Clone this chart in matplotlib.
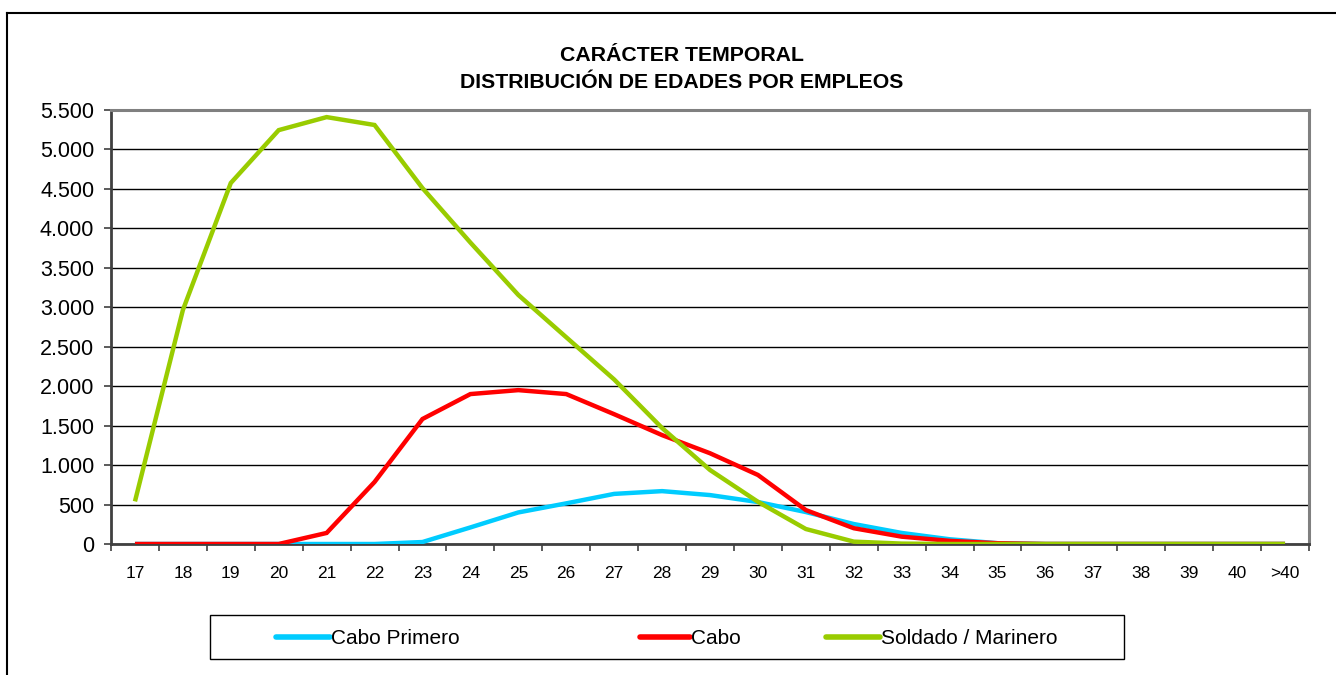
import matplotlib
matplotlib.use("Agg")
import matplotlib.pyplot as plt
from matplotlib.lines import Line2D
from matplotlib.patches import Rectangle
from matplotlib.ticker import FuncFormatter, FixedLocator

plt.rcParams['font.family'] = ['Liberation Sans', 'DejaVu Sans']

categories = ['17', '18', '19', '20', '21', '22', '23', '24', '25', '26', '27', '28',
              '29', '30', '31', '32', '33', '34', '35', '36', '37', '38', '39', '40', '>40']
cabo_primero = [0, 0, 0, 0, 0, 0, 25, 210, 400, 515, 635, 670, 620, 532, 405, 253, 140, 60,
                10, 0, 0, 0, 0, 0, 0]
cabo = [0, 0, 0, 0, 140, 786, 1584, 1900, 1950, 1900, 1645, 1380, 1150, 875, 430, 200, 93, 40,
        10, 0, 0, 0, 0, 0, 0]
soldado = [540, 2965, 4575, 5245, 5410, 5310, 4510, 3820, 3156, 2620, 2085, 1470, 938, 535,
           190, 30, 5, 0, 0, 0, 0, 0, 0, 0, 0]
series_names = ['Cabo Primero', 'Cabo', 'Soldado / Marinero']
series_colors = ['#00CCFF', '#FF0000', '#99CC00']
title_text = 'CARÁCTER TEMPORAL\nDISTRIBUCIÓN DE EDADES POR EMPLEOS'
yticks = list(range(0, 5501, 500))

W, H = 1336, 675
fig = plt.figure(figsize=(W / 100, H / 100), dpi=100)
ax = fig.add_axes([111 / W, 1 - 544 / H, (1309 - 111) / W, (544 - 110) / H])

x = list(range(len(categories)))
for vals, name, col in zip([cabo_primero, cabo, soldado], series_names, series_colors):
    ax.plot(x, vals, color=col, lw=3.2, label=name, solid_joinstyle='miter',
            solid_capstyle='butt', zorder=3)

ax.set_xlim(-0.5, len(categories) - 0.5)
ax.set_ylim(0, 5500)
ax.yaxis.set_major_locator(FixedLocator(yticks))
ax.yaxis.set_major_formatter(FuncFormatter(lambda v, p: f"{int(v):,}".replace(',', '.')))
ax.grid(axis='y', color='black', lw=1.0, zorder=1)
ax.set_axisbelow(True)

ax.set_xticks(x)
ax.set_xticklabels(categories, fontsize=12.5)
ax.set_xticks([i - 0.5 for i in range(len(categories) + 1)], minor=True)
ax.tick_params(axis='x', which='major', length=0, pad=16)
ax.tick_params(axis='x', which='minor', length=5, width=1.2, color='#404040')
ax.tick_params(axis='y', labelsize=15.5, length=5, width=1.2, color='#404040', pad=7)

for s in ['left', 'bottom']:
    ax.spines[s].set_color('#404040')
    ax.spines[s].set_linewidth(2)
for s in ['top', 'right']:
    ax.spines[s].set_color('#808080')
    ax.spines[s].set_linewidth(2.2)

fig.text(682 / W, 1 - 69 / H, title_text, ha='center', va='center', fontsize=15.3,
         fontweight='bold', linespacing=1.47)

# legend box (manual)
def fx(px):
    return px / W

def fy(py):
    return 1 - py / H

fig.add_artist(Rectangle((fx(210), fy(659)), fx(1124) - fx(210), fy(615) - fy(659),
                         transform=fig.transFigure, fill=False, edgecolor='black', lw=1.0))
legend_handles_px = [(276, 330), (640, 690), (826, 880)]
for (x0, x1), name, col in zip(legend_handles_px, series_names, series_colors):
    fig.add_artist(Line2D([fx(x0), fx(x1)], [fy(637), fy(637)], transform=fig.transFigure,
                          color=col, lw=4, solid_capstyle='round'))
    fig.text(fx(x1 + 1), fy(638), name, ha='left', va='center', fontsize=15)

# outer chart border (clipped at right/bottom)
fig.add_artist(Line2D([6.5 / W, 6.5 / W], [0, 1 - 13 / H], transform=fig.transFigure,
                      color='black', lw=1.5))
fig.add_artist(Line2D([6.5 / W, 1], [1 - 13 / H, 1 - 13 / H], transform=fig.transFigure,
                      color='black', lw=1.5))

fig.savefig('out.png', dpi=100)
